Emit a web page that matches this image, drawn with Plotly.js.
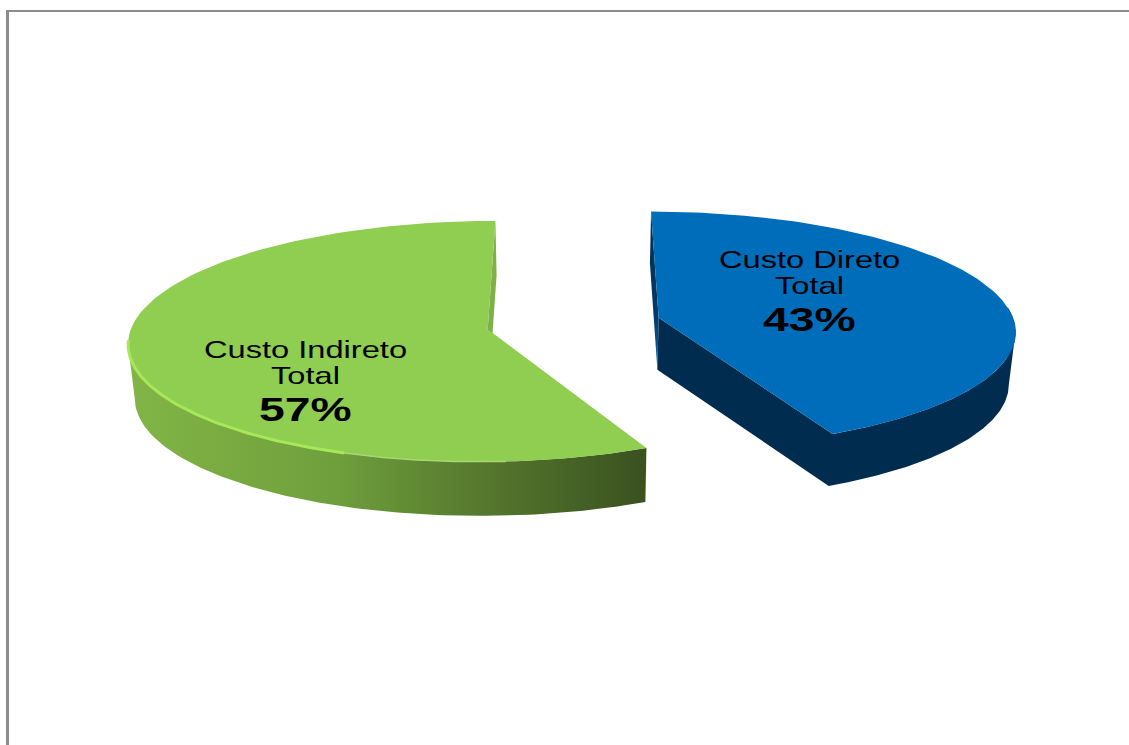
<!DOCTYPE html>
<html>
<head>
<meta charset="utf-8">
<script src="https://cdn.plot.ly/plotly-3.0.1.min.js"></script>
<style>
html,body{margin:0;padding:0;background:#fff;overflow:hidden}
#chart{width:1129px;height:745px}
.annotation-text{transform-box:fill-box;transform-origin:center;transform:scaleX(1.36)}
</style>
</head>
<body>
<div id="chart"></div>
<script>
// Data
const categories = ["Custo Direto Total", "Custo Indireto Total"];
const labelLines = [["Custo Direto", "Total"], ["Custo Indireto", "Total"]];
const shares = [43, 57];
const shareLabels = ["43%", "57%"];

// Look of the slices
const topColors = ["#006dbb", "#8fce50"];
const wallBlue = [[0, "#0a6cb5"], [0.35, "#003a66"], [1, "#002d4f"]];
const wallGreen = [[0, "#82b546"], [0.4, "#6f9f3c"], [0.7, "#54762d"], [1, "#3a5120"]];

// Tilted, exploded pie projection, fitted to the picture
const vx = 575, y0 = 325, ky = 118, persp = 0.1, explode = 0.242, steps = 120;
const rad = d => d * Math.PI / 180;
const total = shares.reduce((a, b) => a + b, 0);
const sweep = shares[0] / total * 360;
const mid0 = sweep / 2;

function project(theta, sign, inner, A, dx, dy) {
  const r = inner ? 0 : 1;
  const wx = r * Math.sin(rad(theta)) + sign * explode * Math.sin(rad(mid0));
  const wz = r * Math.cos(rad(theta)) + sign * explode * Math.cos(rad(mid0));
  const p = 1 / (1 + persp * wz);
  return [vx + dx + A * wx * p, y0 + dy - ky * wz * p];
}
function lower(pt, depth) { return [vx + (pt[0] - vx) * 0.985, pt[1] + depth]; }
function arc(a, b, sign, A, dx, dy) {
  const out = [];
  for (let i = 0; i <= steps; i++) out.push(project(a + (b - a) * i / steps, sign, false, A, dx, dy));
  return out;
}
// Angle at which the rim reaches its outermost point, where the side wall ends
function extreme(a, b, sign, A, dx, dy) {
  let best = a, bestX = -Infinity;
  for (let t = a; t <= b; t += 0.25) {
    const x = sign * project(t, sign, false, A, dx, dy)[0];
    if (x > bestX) { bestX = x; best = t; }
  }
  return best;
}
function poly(points, extra) {
  return Object.assign({
    x: points.map(p => p[0]), y: points.map(p => p[1]),
    type: "scatter", mode: "lines", hoverinfo: "skip", showlegend: false
  }, extra);
}
const solid = (pts, color, name) => poly(pts.concat([pts[0]]), {
  name, fill: "toself", fillcolor: color, line: {width: 0, color}
});
const graded = (pts, scale, type, name) => poly(pts.concat([pts[0]]), {
  name, fill: "toself", fillgradient: {type, colorscale: scale}, line: {width: 0, color: "rgba(0,0,0,0)"}
});
const stroke = (pts, color, width, name) => poly(pts, {name, line: {color, width}});

// Blue slice: theta 0..sweep
const bA = 356, bDx = 0, bDy = -1, bDepth = 52;
const bApex = project(0, 1, true, bA, bDx, bDy);
const bTop = arc(0, sweep, 1, bA, bDx, bDy).concat([bApex]);
const bEnd = extreme(0, sweep, 1, bA, bDx, bDy);
const bWallArc = arc(sweep, bEnd, 1, bA, bDx, bDy);
const bWall = [bApex].concat(bWallArc, bWallArc.slice().reverse().map(p => lower(p, bDepth)), [lower(bApex, bDepth)]);
const bBack = project(0, 1, false, bA, bDx, bDy);
const bBackWall = [bBack, lower(bBack, bDepth), lower(bApex, bDepth), bApex];

// Green slice: theta sweep..360
const gA = 355, gDx = -3, gDy = -2, gDepth = 54;
const gApex = project(0, -1, true, gA, gDx, gDy);
const gTop = arc(sweep, 360, -1, gA, gDx, gDy).concat([gApex]);
const gEnd = extreme(sweep, 360, -1, gA, gDx, gDy);
const gWallArc = arc(sweep, gEnd, -1, gA, gDx, gDy);
const gWall = gWallArc.concat(gWallArc.slice().reverse().map(p => lower(p, gDepth)));
const gBack = project(360, -1, false, gA, gDx, gDy);
const gBackWall = [gBack, lower(gBack, gDepth), lower(gApex, gDepth), gApex];

const traces = [
  solid(gBackWall, "#7fb04a", "Custo Indireto parede"),
  graded(gWall, wallGreen, "horizontal", "Custo Indireto lateral"),
  solid(gTop, topColors[1], categories[1]),
  stroke(arc(200, 176, -1, gA, gDx, gDy), "#a6d676", 1.5, "brilho"),
  stroke(arc(gEnd + 2, 200, -1, gA, gDx, gDy), "#a8e65a", 3, "brilho"),
  graded(bBackWall, wallBlue, "vertical", "Custo Direto parede fundo"),
  solid(bWall, "#002d4f", "Custo Direto lateral"),
  solid(bTop, topColors[0], categories[0]),
  stroke(arc(bEnd - 12, bEnd + 12, 1, bA, bDx, bDy), "#0358a0", 1, "borda")
];

const font = "'Liberation Sans', Arial, sans-serif";
const note = (text, x, y, size, bold) => ({
  text, x, y, xref: "x", yref: "y", showarrow: false, xanchor: "center", yanchor: "middle",
  font: {family: font, size, color: "#000", weight: bold ? 700 : 400}
});
const annotations = [
  note(labelLines[0][0], 809, 259, 24),
  note(labelLines[0][1], 809, 285, 24),
  note(shareLabels[0], 809, 319, 34, true),
  note(labelLines[1][0], 305, 349, 24),
  note(labelLines[1][1], 305, 375, 24),
  note(shareLabels[1], 305, 409, 34, true)
];

const axis = {visible: false, fixedrange: true, showgrid: false, zeroline: false};
const layout = {
  width: 1129, height: 745,
  margin: {l: 0, r: 0, t: 0, b: 0},
  paper_bgcolor: "#fff", plot_bgcolor: "#fff",
  showlegend: false,
  xaxis: Object.assign({range: [0, 1129]}, axis),
  yaxis: Object.assign({range: [745, 0]}, axis),
  annotations,
  shapes: [
    {type: "line", xref: "x", yref: "y", x0: 7.5, x1: 7.5, y0: 10, y1: 745, line: {color: "#8c8c8c", width: 3}},
    {type: "line", xref: "x", yref: "y", x0: 6, x1: 1129, y0: 11, y1: 11, line: {color: "#8c8c8c", width: 2}}
  ]
};
Plotly.newPlot("chart", traces, layout, {displayModeBar: false, staticPlot: true});
</script>
</body>
</html>
